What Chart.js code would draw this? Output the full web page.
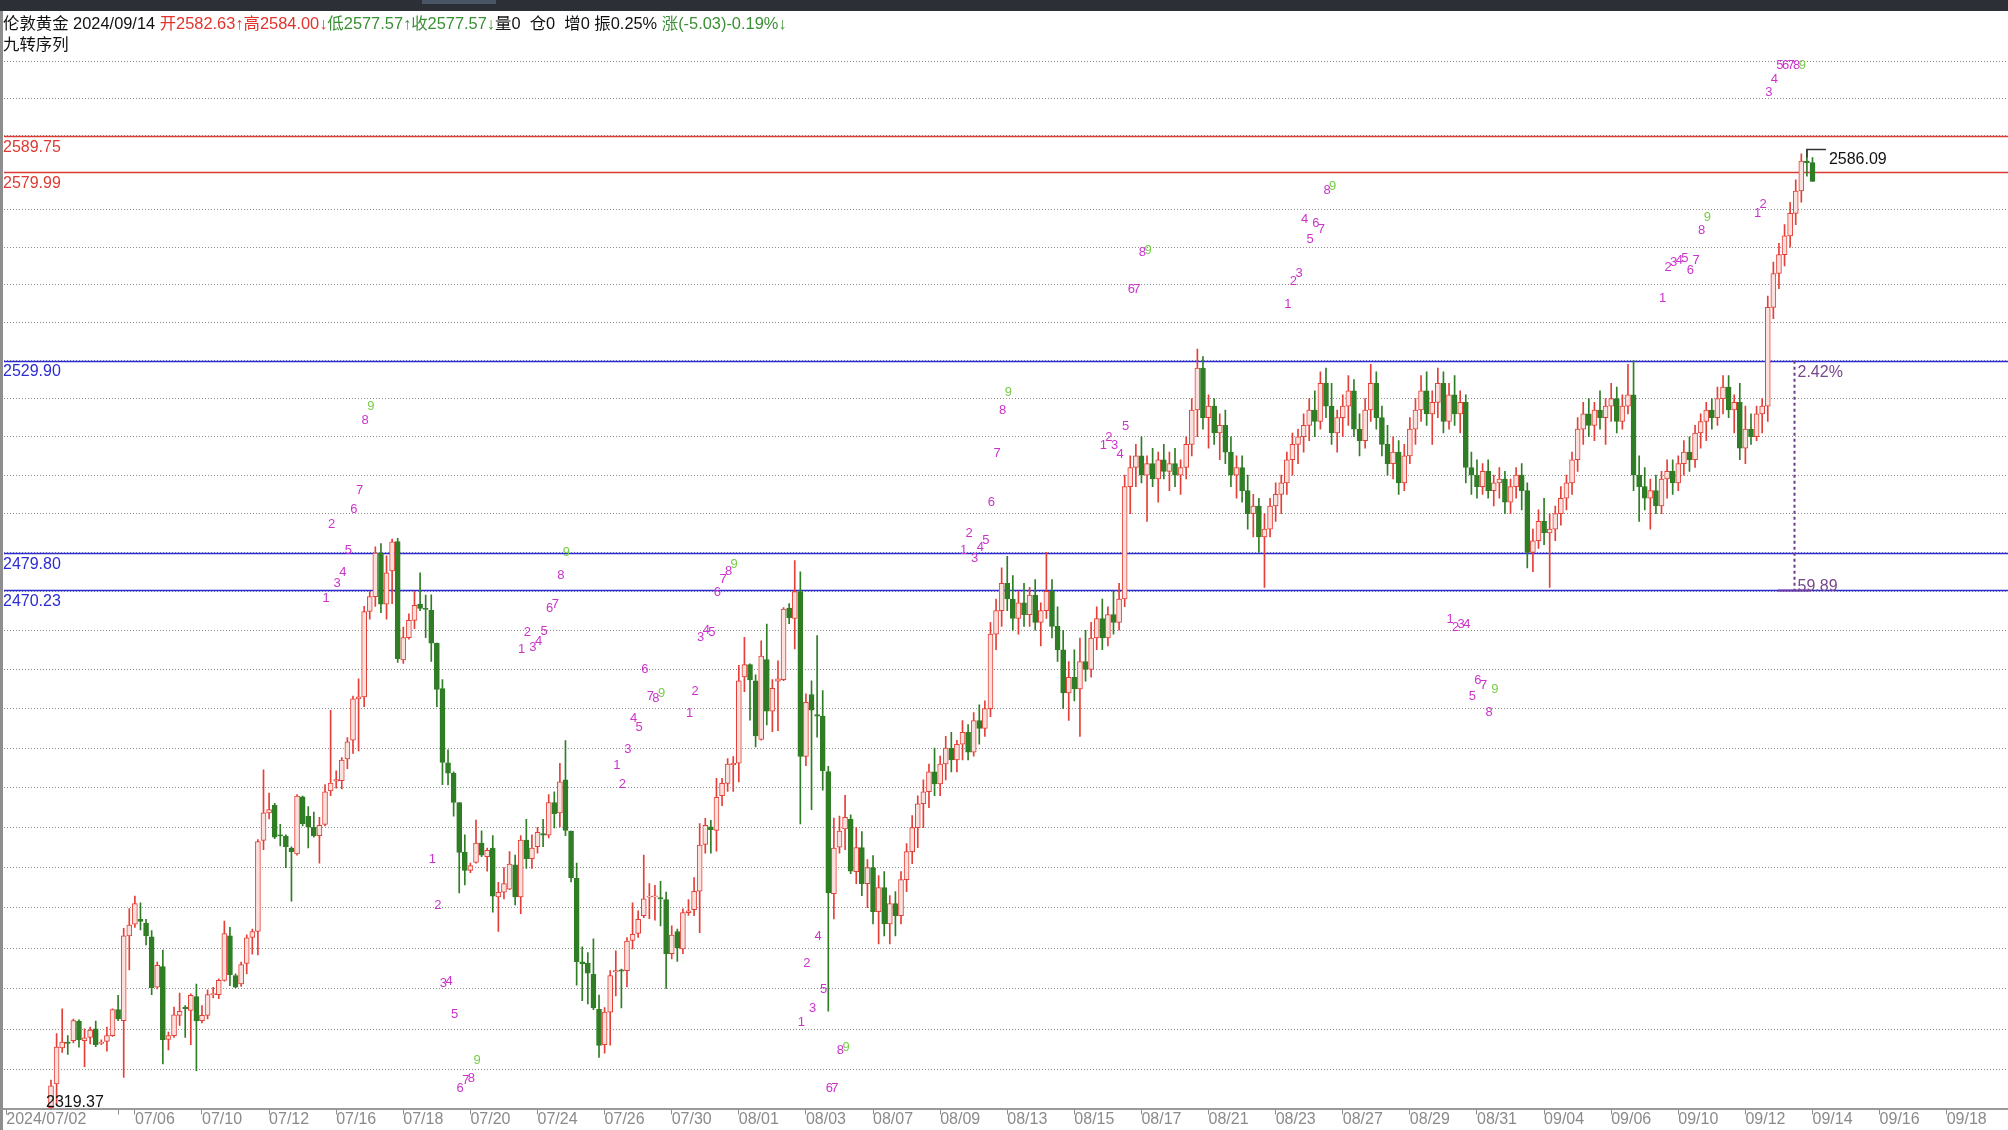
<!DOCTYPE html>
<html>
<head>
<meta charset="utf-8">
<script src="https://cdn.jsdelivr.net/npm/chart.js@4.4.1/dist/chart.umd.min.js"></script>
<style>
  html, body { margin: 0; padding: 0; background: #ffffff; }
  #wrap { position: relative; width: 2008px; height: 1130px; }
</style>
</head>
<body>
<div id="wrap"><canvas id="chart" width="2008" height="1130"></canvas></div>
<script>
// 4h candles, bar index 0 = first visible bar (2024/07/02)
const opens = [
  2340.8, 2346.6, 2355.4, 2356.8, 2357.2, 2362.0, 2357.2, 2358.0, 2360.1, 2356.5,
  2357.0, 2358.4, 2364.8, 2362.1, 2383.0, 2385.9, 2387.1, 2386.1, 2382.8, 2370.3,
  2375.4, 2357.5, 2358.4, 2363.4, 2365.4, 2364.6, 2368.0, 2362.1, 2363.4, 2368.5,
  2368.5, 2372.0, 2383.0, 2373.2, 2371.1, 2376.2, 2382.6, 2384.1, 2406.8, 2413.7,
  2415.6, 2408.2, 2407.9, 2404.9, 2403.4, 2417.7, 2412.8, 2410.1, 2408.0, 2410.8,
  2419.2, 2421.7, 2421.8, 2427.3, 2432.0, 2442.5, 2443.0, 2464.8, 2468.6, 2479.8,
  2466.7, 2475.2, 2482.8, 2452.4, 2458.1, 2462.5, 2466.7, 2465.6, 2465.1, 2456.7,
  2445.1, 2426.3, 2423.7, 2416.3, 2403.8, 2399.3, 2401.3, 2406.1, 2402.7, 2404.9,
  2392.7, 2393.9, 2394.6, 2400.7, 2392.7, 2406.9, 2402.2, 2405.2, 2408.5, 2408.1,
  2416.3, 2413.7, 2422.0, 2409.1, 2397.3, 2376.6, 2376.3, 2373.5, 2364.9, 2356.2,
  2364.2, 2374.1, 2374.6, 2374.4, 2381.9, 2383.6, 2388.0, 2392.6, 2392.7, 2392.5,
  2392.0, 2378.6, 2384.1, 2379.8, 2388.8, 2389.5, 2394.1, 2405.8, 2410.2, 2409.3,
  2418.0, 2421.1, 2425.8, 2426.2, 2448.1, 2451.2, 2447.1, 2432.2, 2452.5, 2439.4,
  2447.0, 2447.4, 2465.7, 2463.0, 2469.9, 2427.9, 2443.6, 2438.5, 2438.1, 2424.1,
  2393.5, 2405.1, 2409.7, 2412.1, 2399, 2405, 2396, 2400, 2389, 2395,
  2386, 2391, 2388, 2397, 2404, 2410, 2416, 2419, 2424, 2421,
  2426, 2430, 2427, 2431, 2434, 2429, 2437, 2435, 2440, 2459,
  2465, 2472, 2468, 2463, 2467, 2464, 2469, 2462, 2465, 2470,
  2461, 2455, 2444, 2448, 2445, 2452, 2450, 2458, 2463, 2458,
  2464, 2462, 2468, 2497, 2502, 2505, 2500, 2503, 2499, 2504,
  2501, 2503, 2500, 2502, 2508, 2517, 2528, 2515, 2518, 2511,
  2513, 2506, 2500, 2502, 2496, 2490, 2492, 2484, 2486, 2492,
  2495, 2498, 2504, 2508, 2510, 2513, 2517, 2514, 2524, 2518,
  2511, 2515, 2518, 2522, 2512, 2509, 2517, 2524, 2515, 2508,
  2503, 2506, 2498, 2505, 2512, 2517, 2522, 2516, 2519, 2524,
  2514, 2521, 2516, 2519, 2502, 2500, 2497, 2501, 2496, 2498,
  2499, 2493, 2497, 2500, 2496, 2480, 2483, 2488, 2485, 2486,
  2490, 2494, 2498, 2504, 2512, 2516, 2513, 2517, 2515, 2518,
  2520, 2514, 2518, 2521, 2500, 2497, 2494, 2496, 2492, 2499,
  2501, 2498, 2503, 2506, 2504, 2511, 2514, 2517, 2515, 2520,
  2523, 2517, 2519, 2507, 2512, 2510, 2516, 2518, 2544, 2553,
  2558, 2563, 2569, 2575, 2583, 2582.63
];
const highs = [
  2347.5, 2358.9, 2365.0, 2358.4, 2362.5, 2362.3, 2360.1, 2360.5, 2362.0, 2357.4,
  2360.5, 2365.0, 2368.3, 2384.9, 2389.8, 2392.9, 2391.2, 2387.1, 2384.3, 2376.5,
  2379.5, 2359.3, 2365.4, 2368.9, 2365.8, 2368.7, 2371.1, 2365.8, 2369.7, 2370.3,
  2372.4, 2386.7, 2385.1, 2373.6, 2376.5, 2383.3, 2384.7, 2407.0, 2424.5, 2418.7,
  2416.1, 2410.8, 2408.2, 2405.2, 2418.3, 2417.9, 2415.3, 2413.9, 2412.6, 2420.8,
  2439.6, 2424.3, 2427.6, 2432.7, 2443.2, 2447.6, 2466.1, 2469.9, 2481.4, 2482.3,
  2479.1, 2483.4, 2483.6, 2460.8, 2464.2, 2469.9, 2474.7, 2469.0, 2469.1, 2456.7,
  2447.4, 2429.6, 2424.0, 2416.3, 2408.2, 2401.1, 2411.9, 2409.2, 2404.9, 2408.0,
  2396.3, 2400.0, 2404.0, 2403.1, 2408.0, 2412.1, 2408.2, 2410.1, 2412.1, 2418.3,
  2419.0, 2426.2, 2431.9, 2409.1, 2401.1, 2380.3, 2378.9, 2382.3, 2368.4, 2365.3,
  2374.4, 2379.3, 2374.8, 2382.6, 2391.2, 2389.2, 2403.1, 2396.0, 2395.6, 2396.6,
  2393.9, 2385.5, 2384.7, 2389.7, 2392.0, 2397.5, 2411.0, 2412.3, 2411.8, 2422.4,
  2422.4, 2427.4, 2427.9, 2451.0, 2458.2, 2451.4, 2448.6, 2457.3, 2461.6, 2447.4,
  2452.2, 2465.8, 2466.8, 2477.9, 2475.0, 2443.8, 2447.1, 2458.6, 2444.6, 2425.4,
  2412.4, 2412.9, 2418.1, 2413.2, 2410, 2409, 2402, 2403, 2398, 2399,
  2393, 2394, 2399, 2406, 2413, 2418, 2422, 2426, 2430, 2428,
  2433, 2434, 2432, 2437, 2436, 2439, 2441, 2442, 2462, 2468,
  2476, 2479, 2474, 2470, 2472, 2471, 2473, 2467, 2480, 2473,
  2466, 2460, 2452, 2455, 2458, 2460, 2462, 2466, 2468, 2466,
  2470, 2472, 2500, 2505, 2508, 2510, 2505, 2507, 2506, 2508,
  2506, 2507, 2504, 2510, 2520, 2533, 2531, 2521, 2520, 2516,
  2517, 2510, 2505, 2505, 2500, 2495, 2494, 2490, 2494, 2498,
  2500, 2506, 2511, 2512, 2516, 2520, 2522, 2527, 2528, 2524,
  2517, 2521, 2526, 2525, 2516, 2520, 2529, 2527, 2518, 2513,
  2510, 2509, 2508, 2515, 2520, 2526, 2527, 2522, 2528, 2527,
  2524, 2526, 2522, 2521, 2506, 2504, 2503, 2504, 2500, 2502,
  2501, 2499, 2502, 2503, 2498, 2486, 2491, 2494, 2490, 2492,
  2497, 2500, 2506, 2515, 2519, 2520, 2519, 2522, 2520, 2524,
  2523, 2521, 2529, 2530, 2505, 2502, 2499, 2500, 2501, 2504,
  2504, 2505, 2509, 2510, 2513, 2516, 2519, 2520, 2523, 2526,
  2526, 2521, 2524, 2518, 2516, 2518, 2520, 2547, 2556, 2561,
  2566, 2572, 2578, 2585, 2586.09, 2584.00
];
const lows = [
  2319.37, 2341.6, 2354.3, 2353.8, 2356.6, 2355.6, 2350.8, 2356.4, 2355.7, 2356.2,
  2354.6, 2358.2, 2362.1, 2348.2, 2374.6, 2385.1, 2384.5, 2380.8, 2368.5, 2369.9,
  2351.5, 2354.9, 2358.0, 2360.9, 2358.0, 2356.2, 2349.8, 2361.5, 2362.5, 2367.7,
  2367.5, 2371.8, 2370.7, 2370.2, 2370.5, 2373.6, 2378.5, 2378.3, 2404.5, 2412.2,
  2407.2, 2405.4, 2400.0, 2391.6, 2403.1, 2410.4, 2404.9, 2407.6, 2401.1, 2410.4,
  2418.0, 2419.9, 2419.7, 2424.8, 2428.7, 2429.3, 2440.5, 2462.8, 2466.1, 2464.5,
  2462.8, 2466.8, 2451.8, 2451.5, 2457.7, 2460.4, 2465.0, 2458.1, 2452.0, 2440.5,
  2420.8, 2420.7, 2412.9, 2393.7, 2395.7, 2398.7, 2401.1, 2402.7, 2399.1, 2388.9,
  2384.1, 2392.2, 2394.5, 2390.7, 2388.5, 2399.8, 2399.8, 2403.6, 2405.2, 2407.4,
  2409.9, 2410.2, 2408.0, 2396.4, 2370.8, 2367.0, 2366.2, 2364.8, 2353.1, 2354.1,
  2356.1, 2368.2, 2365.2, 2370.4, 2379.8, 2382.6, 2387.5, 2387.3, 2386.9, 2385.5,
  2370.0, 2377.3, 2376.7, 2378.6, 2388.1, 2388.0, 2383.8, 2403.6, 2403.6, 2404.1,
  2415.5, 2419.1, 2419.1, 2421.5, 2444.3, 2437.1, 2430.3, 2432.0, 2435.9, 2434.2,
  2434.4, 2447.1, 2461.7, 2455.2, 2410.9, 2425.6, 2414.5, 2432.8, 2419.4, 2364.4,
  2387.2, 2403.6, 2404.5, 2398.5, 2396, 2393, 2390, 2386, 2381, 2383,
  2381, 2383, 2386, 2394, 2401, 2405, 2410, 2415, 2418, 2418,
  2422, 2424, 2424, 2427, 2427, 2428, 2431, 2433, 2438, 2455,
  2461, 2465, 2460, 2459, 2461, 2461, 2460, 2456, 2463, 2458,
  2452, 2440, 2437, 2442, 2433, 2447, 2448, 2455, 2455, 2456,
  2459, 2460, 2466, 2490, 2497, 2498, 2488, 2497, 2493, 2499,
  2496, 2497, 2495, 2499, 2505, 2510, 2512, 2507, 2508, 2504,
  2503, 2497, 2494, 2493, 2486, 2484, 2480, 2471, 2484, 2488,
  2490, 2495, 2500, 2503, 2506, 2509, 2510, 2512, 2515, 2508,
  2506, 2510, 2513, 2510, 2505, 2507, 2514, 2512, 2505, 2500,
  2499, 2495, 2496, 2503, 2508, 2514, 2513, 2508, 2515, 2511,
  2512, 2513, 2511, 2498, 2495, 2494, 2495, 2494, 2492, 2494,
  2490, 2490, 2494, 2491, 2476, 2475, 2481, 2482, 2471, 2483,
  2487, 2491, 2495, 2501, 2508, 2510, 2509, 2512, 2508, 2514,
  2511, 2512, 2516, 2496, 2488, 2491, 2486, 2490, 2490, 2494,
  2495, 2496, 2500, 2501, 2502, 2507, 2509, 2512, 2513, 2516,
  2515, 2511, 2504, 2503, 2508, 2509, 2511, 2514, 2541, 2549,
  2555, 2560, 2566, 2572, 2579, 2577.57
];
const closes = [
  2346.1, 2355.6, 2356.8, 2356.5, 2362.1, 2357.4, 2357.9, 2359.8, 2356.2, 2356.8,
  2358.4, 2364.8, 2362.5, 2383.0, 2385.7, 2391.0, 2386.6, 2383.0, 2370.2, 2375.7,
  2357.4, 2358.4, 2363.5, 2364.4, 2365.0, 2368.3, 2362.0, 2363.4, 2368.5, 2368.6,
  2372.0, 2383.6, 2373.4, 2370.3, 2375.9, 2382.5, 2384.1, 2406.5, 2413.7, 2414.5,
  2407.6, 2407.9, 2405.2, 2404.0, 2417.9, 2411.0, 2410.1, 2407.9, 2410.6, 2419.0,
  2421.2, 2422.1, 2427.0, 2431.6, 2442.5, 2443.0, 2464.8, 2468.6, 2479.8, 2466.7,
  2474.7, 2482.7, 2452.7, 2458.1, 2462.5, 2466.4, 2465.6, 2465.3, 2456.7, 2444.9,
  2426.4, 2423.7, 2416.3, 2403.8, 2399.3, 2400.5, 2406.1, 2403.1, 2404.3, 2392.9,
  2393.8, 2396.0, 2400.9, 2392.7, 2406.9, 2402.2, 2404.9, 2408.8, 2408.1, 2416.3,
  2413.5, 2421.5, 2409.3, 2397.5, 2376.6, 2376.1, 2373.8, 2365.2, 2356.0, 2364.2,
  2373.2, 2374.4, 2374.3, 2381.7, 2383.4, 2387.1, 2392.2, 2392.9, 2392.9, 2392.2,
  2378.6, 2383.2, 2380.0, 2388.8, 2389.2, 2394.1, 2405.6, 2410.6, 2409.5, 2417.6,
  2421.1, 2426.0, 2426.2, 2447.1, 2451.2, 2447.3, 2433.1, 2453.4, 2439.4, 2445.2,
  2447.6, 2465.4, 2463.2, 2469.9, 2427.9, 2441.6, 2439.6, 2438.1, 2424.3, 2393.7,
  2404.9, 2409.1, 2412.6, 2399.1, 2405, 2396, 2400, 2389, 2395, 2386,
  2391, 2388, 2397, 2404, 2410, 2416, 2419, 2424, 2421, 2426,
  2430, 2427, 2431, 2434, 2429, 2437, 2435, 2440, 2459, 2465,
  2472, 2468, 2463, 2467, 2464, 2469, 2462, 2465, 2470, 2461,
  2455, 2444, 2448, 2445, 2452, 2450, 2458, 2463, 2458, 2464,
  2462, 2468, 2497, 2502, 2505, 2500, 2503, 2499, 2504, 2501,
  2503, 2500, 2502, 2508, 2517, 2528, 2515, 2518, 2511, 2513,
  2506, 2500, 2502, 2496, 2490, 2492, 2484, 2486, 2492, 2495,
  2498, 2504, 2508, 2510, 2513, 2517, 2514, 2524, 2518, 2511,
  2515, 2518, 2522, 2512, 2509, 2517, 2524, 2515, 2508, 2503,
  2506, 2498, 2505, 2512, 2517, 2522, 2516, 2519, 2524, 2514,
  2521, 2516, 2519, 2502, 2500, 2497, 2501, 2496, 2498, 2499,
  2493, 2497, 2500, 2496, 2480, 2483, 2488, 2485, 2486, 2490,
  2494, 2498, 2504, 2512, 2516, 2513, 2517, 2515, 2518, 2520,
  2514, 2518, 2521, 2500, 2497, 2494, 2496, 2492, 2499, 2501,
  2498, 2503, 2506, 2504, 2511, 2514, 2517, 2515, 2520, 2523,
  2517, 2519, 2507, 2512, 2510, 2516, 2518, 2544, 2553, 2558,
  2563, 2569, 2575, 2583, 2582.6, 2577.57
];

// bottom axis: bar index of each tick, and its text
const xTickBars = [-8, 12, 15, 27, 39, 51, 63, 75, 87, 99, 111, 123, 135, 147, 159,
  171, 183, 195, 207, 219, 231, 243, 255, 267, 279, 291, 303, 315, 327, 339];
const xTickLabels = ['2024/07/02', '', '07/06', '07/10', '07/12', '07/16', '07/18', '07/20',
  '07/24', '07/26', '07/30', '08/01', '08/03', '08/07', '08/09', '08/13', '08/15', '08/17',
  '08/21', '08/23', '08/27', '08/29', '08/31', '09/04', '09/06', '09/10', '09/12', '09/14',
  '09/16', '09/18'];

// dotted price grid
const gridPrices = [2350, 2360, 2370, 2380, 2390, 2400, 2410, 2420, 2430, 2440, 2450,
  2460, 2470, 2480, 2490, 2500, 2510, 2520, 2530, 2540, 2550, 2560, 2570, 2580, 2590,
  2600, 2610];

// drawn horizontal levels
const levelPrices = [2589.75, 2579.99, 2529.90, 2479.80, 2470.23];
const levelTexts = ['2589.75', '2579.99', '2529.90', '2479.80', '2470.23'];
const levelColors = ['#dc3b33', '#dc3b33', '#2b2bd2', '#2b2bd2', '#2b2bd2'];

// 九转序列 counts: [bar, price, text]
const tdMarks = [
  [49, 2468.2, '1'], [50, 2487.2, '2'], [51, 2472.1, '3'], [52, 2474.9, '4'], [53, 2480.4, '5'],
  [54, 2491.0, '6'], [55, 2496.0, '7'], [56, 2514.2, '8'], [57, 2518.0, '9'],
  [68, 2402.1, '1'], [69, 2390.5, '2'], [70, 2371.3, '3'], [71, 2371.8, '4'], [72, 2363.6, '5'],
  [73, 2345.4, '6'], [74, 2347.5, '7'], [75, 2347.9, '8'], [76, 2352.4, '9'],
  [84, 2455.2, '1'], [85, 2459.4, '2'], [86, 2455.5, '3'], [87, 2457.1, '4'], [88, 2459.6, '5'],
  [89, 2465.7, '6'], [90, 2466.5, '7'], [91, 2474.1, '8'], [92, 2480.0, '9'],
  [101, 2425.6, '1'], [102, 2420.9, '2'], [103, 2429.7, '3'], [104, 2437.6, '4'], [105, 2435.2, '5'],
  [106, 2449.9, '6'], [107, 2443.2, '7'], [108, 2442.5, '8'], [109, 2443.8, '9'],
  [114, 2438.8, '1'], [115, 2444.5, '2'], [116, 2458.1, '3'], [117, 2459.9, '4'], [118, 2459.5, '5'],
  [119, 2469.7, '6'], [120, 2473.0, '7'], [121, 2475.2, '8'], [122, 2476.8, '9'],
  [134, 2361.7, '1'], [135, 2376.1, '2'], [136, 2365.1, '3'], [137, 2382.8, '4'], [138, 2369.8, '5'],
  [139, 2345.4, '6'], [140, 2345.4, '7'], [141, 2354.7, '8'], [142, 2355.4, '9'],
  [163, 2480.5, '1'], [164, 2484.8, '2'], [165, 2478.5, '3'], [166, 2481.2, '4'], [167, 2483.2, '5'],
  [168, 2493.0, '6'], [169, 2505.7, '7'], [170, 2517.0, '8'], [171, 2521.7, '9'],
  [188, 2507.8, '1'], [189, 2509.8, '2'], [190, 2507.8, '3'], [191, 2505.4, '4'], [192, 2512.6, '5'],
  [193, 2548.8, '6'], [194, 2548.8, '7'], [195, 2558.7, '8'], [196, 2559.1, '9'],
  [221, 2544.7, '1'], [222, 2550.8, '2'], [223, 2552.9, '3'], [224, 2567.5, '4'], [225, 2562.1, '5'],
  [226, 2566.2, '6'], [227, 2564.8, '7'], [228, 2575.2, '8'], [229, 2576.2, '9'],
  [250, 2462.7, '1'], [251, 2460.7, '2'], [252, 2461.6, '3'], [253, 2461.6, '4'], [254, 2443.2, '5'],
  [255, 2447.1, '6'], [256, 2445.8, '7'], [257, 2439.0, '8'], [258, 2444.8, '9'],
  [288, 2546.4, '1'], [289, 2554.5, '2'], [290, 2555.9, '3'], [291, 2556.6, '4'], [292, 2556.9, '5'],
  [293, 2553.8, '6'], [294, 2556.6, '7'], [295, 2564.5, '8'], [296, 2567.9, '9'],
  [305, 2568.9, '1'], [306, 2571.3, '2'], [307, 2601.6, '3'], [308, 2605.0, '4'], [309, 2608.8, '5'],
  [310, 2608.8, '6'], [311, 2608.8, '7'], [312, 2608.8, '8'], [313, 2608.8, '9']
];

const headerParts = [
  ['伦敦黄金 2024/09/14 ', '#111111'],
  ['开2582.63↑高2584.00↓', '#e0342c'],
  ['低2577.57↑收2577.57↓', '#3a8f35'],
  ['量0  仓0  增0 振0.25% ', '#111111'],
  ['涨(-5.03)-0.19%↓', '#3a8f35']
];
const subTitle = '九转序列';

const measureBar = 311.65;
const measureHigh = 2529.90;
const measureLow = 2470.23;
const measureTexts = ['2.42%', '59.89'];

const maxBar = 314;
const maxText = '2586.09';
const minBar = 0;
const minText = '2319.37';

const RED = '#e53f37';
const UP_FILL = '#fbe1de';
const GREEN = '#2f7d25';
const FONT = '"Liberation Sans", "Noto Sans CJK SC", sans-serif';

const isUp = (i) => closes[i] >= opens[i];
const bodyData = opens.map((o, i) => ({ x: i, y: [o, closes[i]] }));
const wickData = lows.map((l, i) => ({ x: i, y: [l, highs[i]] }));

const decor = {
  id: 'decor',
  beforeDraw(chart) {
    const c = chart.ctx;
    c.save();
    c.fillStyle = '#ffffff';
    c.fillRect(0, 0, chart.width, chart.height);
    c.restore();
  },
  beforeDatasetsDraw(chart) {
    const { ctx: c, chartArea: a, scales: { y } } = chart;
    c.save();
    levelPrices.forEach((p, i) => {
      const py = Math.round(y.getPixelForValue(p)) + 0.5;
      c.strokeStyle = levelColors[i];
      c.lineWidth = 1.4;
      c.beginPath();
      c.moveTo(a.left, py);
      c.lineTo(a.right, py);
      c.stroke();
    });
    c.restore();
  },
  afterDatasetsDraw(chart) {
    const { ctx: c, chartArea: a, scales: { x, y } } = chart;
    c.save();

    // level labels
    c.font = '16px ' + FONT;
    c.textAlign = 'left';
    c.textBaseline = 'top';
    levelPrices.forEach((p, i) => {
      c.fillStyle = levelColors[i];
      c.fillText(levelTexts[i], 3, y.getPixelForValue(p) + 3);
    });

    // nine-turn counts
    c.font = '13px ' + FONT;
    c.textAlign = 'center';
    c.textBaseline = 'middle';
    tdMarks.forEach(([bar, price, t]) => {
      c.fillStyle = t === '9' ? '#78cc48' : '#cc33cc';
      c.fillText(t, x.getPixelForValue(bar) + 1, y.getPixelForValue(price));
    });

    // range measure
    const mx = Math.round(x.getPixelForValue(measureBar)) + 0.5;
    const mTop = y.getPixelForValue(measureHigh);
    const mBot = y.getPixelForValue(measureLow);
    c.strokeStyle = '#6b3d8c';
    c.lineWidth = 2;
    c.setLineDash([3, 3]);
    c.beginPath();
    c.moveTo(mx, mTop);
    c.lineTo(mx, mBot);
    c.stroke();
    c.setLineDash([]);
    c.strokeStyle = '#6a3aa8';
    c.beginPath();
    c.moveTo(x.getPixelForValue(measureBar - 2.9), Math.round(mBot) + 0.5);
    c.lineTo(x.getPixelForValue(measureBar + 3), Math.round(mBot) + 0.5);
    c.stroke();
    c.fillStyle = '#7a4690';
    c.font = '16px ' + FONT;
    c.textAlign = 'left';
    c.textBaseline = 'top';
    c.fillText(measureTexts[0], mx + 3, mTop + 4);
    c.textBaseline = 'alphabetic';
    c.fillText(measureTexts[1], mx + 3, mBot + 1);

    // extremes
    const hx = x.getPixelForValue(maxBar);
    const hy = Math.round(y.getPixelForValue(highs[maxBar])) - 0.5;
    c.strokeStyle = '#333333';
    c.lineWidth = 1.5;
    c.beginPath();
    c.moveTo(hx, hy + 8);
    c.lineTo(hx, hy);
    c.lineTo(hx + 19, hy);
    c.stroke();
    c.fillStyle = '#111111';
    c.textBaseline = 'top';
    c.fillText(maxText, hx + 22, hy + 2);
    c.textBaseline = 'alphabetic';
    c.fillText(minText, x.getPixelForValue(minBar) - 5, a.bottom - 2);

    // header text
    c.font = '16.4px ' + FONT;
    let hxPos = 3;
    headerParts.forEach(([t, col]) => {
      c.fillStyle = col;
      c.fillText(t, hxPos, 29);
      hxPos += c.measureText(t).width;
    });
    c.fillStyle = '#111111';
    c.fillText(subTitle, 3, 50);

    // window frame
    c.fillStyle = '#2c2f35';
    c.fillRect(0, 0, chart.width, 11);
    c.fillStyle = '#4a5566';
    c.fillRect(422, 0, 74, 4);
    c.fillStyle = '#8e8e8e';
    c.fillRect(0, 11, 3, chart.height - 11);
    c.restore();
  }
};

new Chart(document.getElementById('chart'), {
  type: 'bar',
  data: {
    datasets: [
      {
        data: bodyData,
        order: 0,
        grouped: false,
        barThickness: 5,
        minBarLength: 1,
        borderWidth: 1,
        borderSkipped: false,
        backgroundColor: (ctx) => (isUp(ctx.dataIndex) ? UP_FILL : GREEN),
        borderColor: (ctx) => (isUp(ctx.dataIndex) ? RED : GREEN)
      },
      {
        data: wickData,
        order: 1,
        grouped: false,
        barThickness: 1,
        borderWidth: 0,
        backgroundColor: (ctx) => (isUp(ctx.dataIndex) ? RED : GREEN)
      }
    ]
  },
  options: {
    responsive: false,
    animation: false,
    events: [],
    layout: { padding: { left: 4, top: 12, right: 0, bottom: 0 }, autoPadding: false },
    plugins: { legend: { display: false }, tooltip: { enabled: false } },
    scales: {
      x: {
        type: 'linear',
        min: -8.405,
        max: 349.96,
        offset: false,
        afterBuildTicks: (s) => { s.ticks = xTickBars.map((v) => ({ value: v })); },
        afterFit: (s) => { s.height = 21.5; },
        grid: { drawOnChartArea: false, drawTicks: true, tickLength: 6, color: '#8c8c8c', offset: false },
        border: { display: true, color: '#9a9a9a', width: 2 },
        ticks: {
          autoSkip: false,
          maxRotation: 0,
          align: 'start',
          padding: -5,
          color: '#8a8a8a',
          font: { family: 'Liberation Sans', size: 16 },
          callback: (v, i) => xTickLabels[i]
        }
      },
      y: {
        type: 'logarithmic',
        min: 2340.6,
        max: 2623.4,
        afterBuildTicks: (s) => { s.ticks = gridPrices.map((v) => ({ value: v })); },
        afterFit: (s) => { s.width = 0; },
        grid: { color: '#8c8c8c', lineWidth: 1, drawTicks: false },
        border: { display: false, dash: [1, 2] },
        ticks: { display: false }
      }
    }
  },
  plugins: [decor]
});
</script>
</body>
</html>
